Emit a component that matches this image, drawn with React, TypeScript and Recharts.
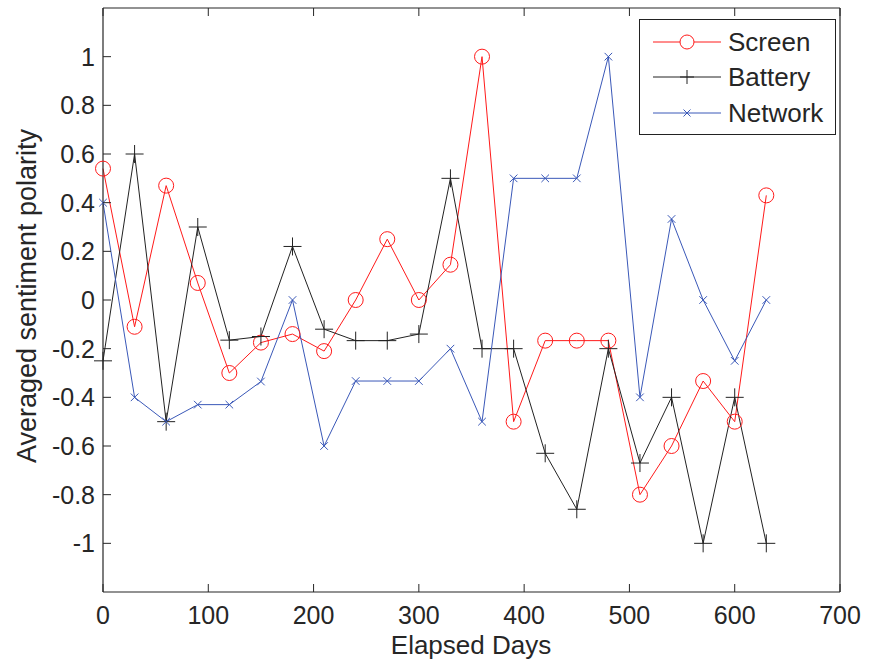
import React from 'react';
import { LineChart, Line, XAxis, YAxis } from 'recharts';

const days = [0, 30, 60, 90, 120, 150, 180, 210, 240, 270, 300, 330, 360, 390, 420, 450, 480, 510, 540, 570, 600, 630];
const screen = [0.54, -0.11, 0.47, 0.07, -0.3, -0.175, -0.14, -0.21, 0, 0.25, 0, 0.145, 1, -0.5, -0.167, -0.167, -0.167, -0.8, -0.6, -0.333, -0.5, 0.43];
const battery = [-0.25, 0.6, -0.5, 0.3, -0.165, -0.15, 0.22, -0.12, -0.167, -0.167, -0.14, 0.5, -0.2, -0.2, -0.63, -0.86, -0.2, -0.67, -0.4, -1, -0.4, -1];
const network = [0.4, -0.4, -0.5, -0.43, -0.43, -0.335, 0, -0.6, -0.333, -0.333, -0.333, -0.2, -0.5, 0.5, 0.5, 0.5, 1, -0.4, 0.333, 0, -0.25, 0];

const xTicks = [0, 100, 200, 300, 400, 500, 600, 700];
const yTicks = [-1, -0.8, -0.6, -0.4, -0.2, 0, 0.2, 0.4, 0.6, 0.8, 1];

const data = days.map((d, i) => ({ day: d, screen: screen[i], battery: battery[i], network: network[i] }));

const FONT = '"Liberation Sans", Arial, sans-serif';
const INK = '#262626';
const RED = '#ff1a1a';
const BLACK = '#222222';
const BLUE = '#3a58b8';
const TICK = 8;

const CircleDot = (props: any) => {
  const { cx, cy, index } = props;
  return <circle key={`c${index}`} cx={cx} cy={cy} r={7.5} fill="none" stroke={RED} strokeWidth={1} />;
};

const PlusDot = (props: any) => {
  const { cx, cy, index } = props;
  return (
    <g key={`p${index}`}>
      <line x1={cx - 9} y1={cy} x2={cx + 9} y2={cy} stroke={BLACK} strokeWidth={1} />
      <line x1={cx} y1={cy - 9} x2={cx} y2={cy + 9} stroke={BLACK} strokeWidth={1} />
    </g>
  );
};

const CrossDot = (props: any) => {
  const { cx, cy, index } = props;
  const h = 3.8;
  return (
    <g key={`x${index}`}>
      <line x1={cx - h} y1={cy - h} x2={cx + h} y2={cy + h} stroke={BLUE} strokeWidth={1} />
      <line x1={cx - h} y1={cy + h} x2={cx + h} y2={cy - h} stroke={BLUE} strokeWidth={1} />
    </g>
  );
};

const BottomTick = (props: any) => {
  const { x, y, payload } = props;
  return (
    <g>
      <line x1={x} y1={y} x2={x} y2={y - TICK} stroke={INK} />
      <text x={x} y={y + 32} textAnchor="middle" fontSize={25} fontFamily={FONT} fill={INK}>
        {payload.value}
      </text>
    </g>
  );
};

const TopTick = (props: any) => {
  const { x, y } = props;
  return <line x1={x} y1={y} x2={x} y2={y + TICK} stroke={INK} />;
};

const LeftTick = (props: any) => {
  const { x, y, payload } = props;
  return (
    <g>
      <line x1={x} y1={y} x2={x + TICK} y2={y} stroke={INK} />
      <text x={x - 8} y={y + 9} textAnchor="end" fontSize={25} fontFamily={FONT} fill={INK}>
        {payload.value}
      </text>
    </g>
  );
};

const RightTick = (props: any) => {
  const { x, y } = props;
  return <line x1={x} y1={y} x2={x - TICK} y2={y} stroke={INK} />;
};

const legendItems = [
  { name: 'Screen', color: RED, kind: 'circle' },
  { name: 'Battery', color: BLACK, kind: 'plus' },
  { name: 'Network', color: BLUE, kind: 'cross' },
];

const LegendBox = () => (
  <div
    style={{
      position: 'absolute',
      left: 639,
      top: 19,
      border: '1.5px solid #222',
      background: '#fff',
      width: 197,
      height: 116,
      boxSizing: 'border-box',
      paddingTop: 4,
    }}
  >
    {legendItems.map((it) => (
      <div key={it.name} style={{ display: 'flex', alignItems: 'center', height: 35.5 }}>
        <svg width={88} height={30} style={{ display: 'block' }}>
          <line x1={13} y1={15} x2={81} y2={15} stroke={it.color} strokeWidth={1} />
          {it.kind === 'circle' && <circle cx={47} cy={15} r={7} fill="#fff" stroke={it.color} />}
          {it.kind === 'plus' && (
            <g stroke={it.color}>
              <line x1={40} y1={15} x2={54} y2={15} />
              <line x1={47} y1={8} x2={47} y2={22} />
            </g>
          )}
          {it.kind === 'cross' && (
            <g stroke={it.color}>
              <line x1={43.5} y1={11.5} x2={50.5} y2={18.5} />
              <line x1={43.5} y1={18.5} x2={50.5} y2={11.5} />
            </g>
          )}
        </svg>
        <span style={{ fontFamily: FONT, fontSize: 26, color: INK, lineHeight: '30px' }}>{it.name}</span>
      </div>
    ))}
  </div>
);

export default function App() {
  return (
    <div style={{ position: 'absolute', left: 0, top: 0, width: 871, height: 668, background: '#fff' }}>
      <LineChart width={871} height={668} data={data} margin={{ top: 7, right: 30, bottom: 0, left: 0 }}>
        <XAxis
          dataKey="day"
          type="number"
          domain={[0, 700]}
          ticks={xTicks}
          height={76}
          tickSize={0}
          tickMargin={0}
          tickLine={false}
          axisLine={{ stroke: INK, strokeWidth: 1.2 }}
          tick={<BottomTick />}
          interval={0}
        />
        <XAxis
          xAxisId="top"
          orientation="top"
          dataKey="day"
          type="number"
          domain={[0, 700]}
          ticks={xTicks}
          height={1}
          tickSize={0}
          tickMargin={0}
          tickLine={false}
          axisLine={{ stroke: INK, strokeWidth: 1.2 }}
          tick={<TopTick />}
          interval={0}
        />
        <YAxis
          type="number"
          domain={[-1.2, 1.2]}
          ticks={yTicks}
          width={103}
          tickSize={0}
          tickMargin={0}
          tickLine={false}
          axisLine={{ stroke: INK, strokeWidth: 1.2 }}
          tick={<LeftTick />}
          interval={0}
          allowDataOverflow
        />
        <YAxis
          yAxisId="right"
          orientation="right"
          type="number"
          domain={[-1.2, 1.2]}
          ticks={yTicks}
          width={1}
          tickSize={0}
          tickMargin={0}
          tickLine={false}
          axisLine={{ stroke: INK, strokeWidth: 1.2 }}
          tick={<RightTick />}
          interval={0}
        />
        <Line type="linear" dataKey="screen" name="Screen" stroke={RED} strokeWidth={1} dot={CircleDot} isAnimationActive={false} />
        <Line type="linear" dataKey="battery" name="Battery" stroke={BLACK} strokeWidth={1} dot={PlusDot} isAnimationActive={false} />
        <Line type="linear" dataKey="network" name="Network" stroke={BLUE} strokeWidth={1} dot={CrossDot} isAnimationActive={false} />
      </LineChart>
      <LegendBox />
      <div
        style={{
          position: 'absolute',
          left: 471,
          top: 645,
          transform: 'translate(-50%, -50%)',
          fontFamily: FONT,
          fontSize: 26,
          color: INK,
          whiteSpace: 'nowrap',
        }}
      >
        Elapsed Days
      </div>
      <div
        style={{
          position: 'absolute',
          left: 27,
          top: 296,
          transform: 'translate(-50%, -50%) rotate(-90deg)',
          fontFamily: FONT,
          fontSize: 27,
          color: INK,
          whiteSpace: 'nowrap',
        }}
      >
        Averaged sentiment polarity
      </div>
    </div>
  );
}
